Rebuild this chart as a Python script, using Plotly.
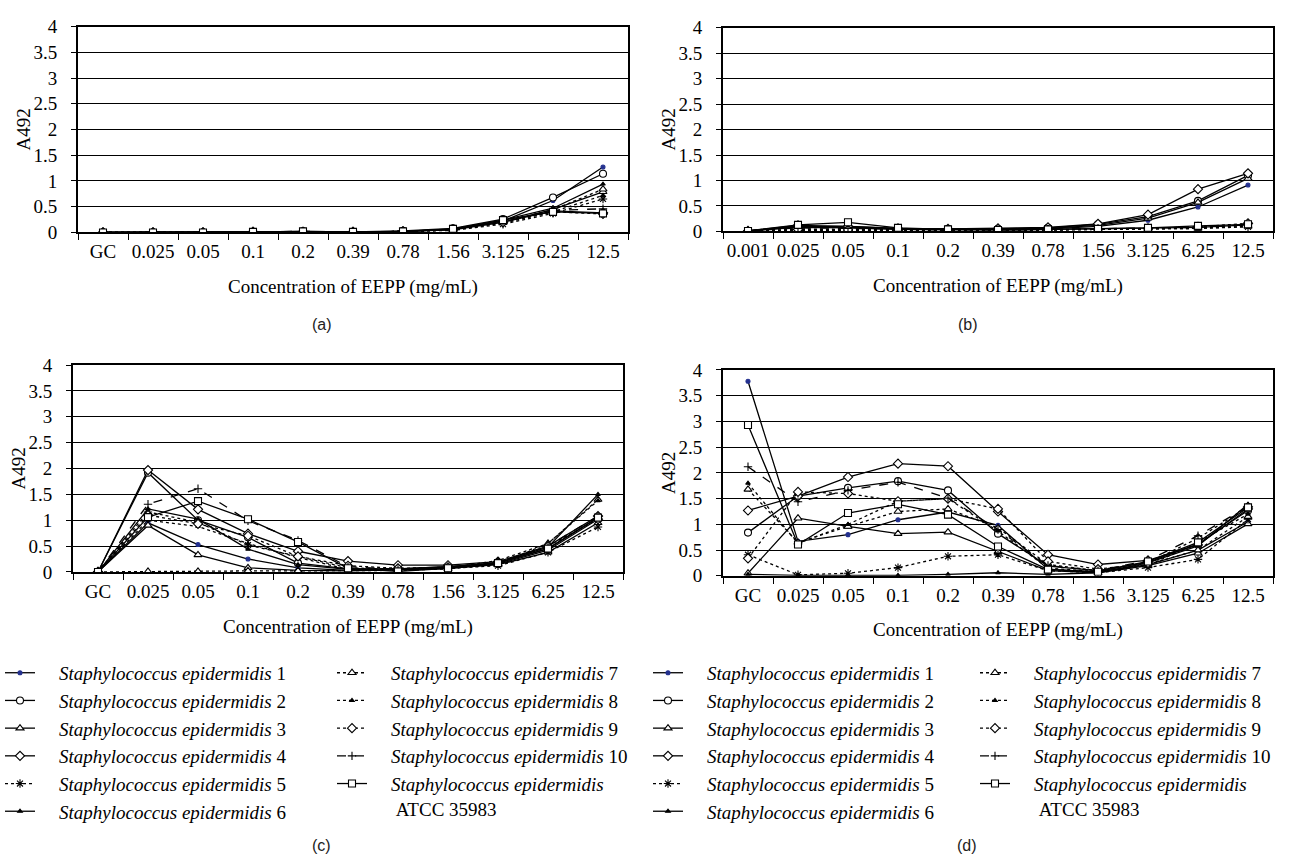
import plotly.graph_objects as go

# Concentrations of EEPP (mg/mL) on the category axes
conc_gc = ["GC", "0.025", "0.05", "0.1", "0.2", "0.39", "0.78", "1.56", "3.125", "6.25", "12.5"]
conc_b = ["0.001", "0.025", "0.05", "0.1", "0.2", "0.39", "0.78", "1.56", "3.125", "6.25", "12.5"]

GAP = "\u00a0" * 4
strain_names = [
    GAP + "<i>Staphylococcus epidermidis</i> 1",
    GAP + "<i>Staphylococcus epidermidis</i> 2",
    GAP + "<i>Staphylococcus epidermidis</i> 3",
    GAP + "<i>Staphylococcus epidermidis</i> 4",
    GAP + "<i>Staphylococcus epidermidis</i> 5",
    GAP + "<i>Staphylococcus epidermidis</i> 6",
    GAP + "<i>Staphylococcus epidermidis</i> 7",
    GAP + "<i>Staphylococcus epidermidis</i> 8",
    GAP + "<i>Staphylococcus epidermidis</i> 9",
    GAP + "<i>Staphylococcus epidermidis</i> 10",
    GAP + "<i>Staphylococcus epidermidis</i><br>" + GAP + "\u00a0ATCC 35983",
]

# Panel (a) A492
a_s1 = [0, 0, 0, 0.01, 0.01, 0.01, 0.02, 0.06, 0.22, 0.62, 1.27]
a_s2 = [0, 0, 0, 0.01, 0.02, 0.01, 0.03, 0.08, 0.26, 0.68, 1.14]
a_s3 = [0, 0, 0, 0.01, 0.01, 0.01, 0.02, 0.05, 0.20, 0.45, 0.79]
a_s4 = [0, 0, 0, 0.01, 0.01, 0.01, 0.02, 0.06, 0.20, 0.42, 0.38]
a_s5 = [0, 0, 0, 0.01, 0.01, 0.01, 0.02, 0.04, 0.16, 0.37, 0.65]
a_s6 = [0, 0, 0, 0.01, 0.01, 0.01, 0.02, 0.06, 0.24, 0.47, 0.94]
a_s7 = [0, 0, 0, 0.01, 0.01, 0.01, 0.02, 0.05, 0.20, 0.44, 0.84]
a_s8 = [0, 0, 0, 0.01, 0.01, 0.01, 0.02, 0.05, 0.18, 0.40, 0.72]
a_s9 = [0, 0, 0, 0.01, 0.01, 0.01, 0.02, 0.05, 0.20, 0.40, 0.36]
a_s10 = [0, 0, 0, 0.01, 0.02, 0.01, 0.02, 0.06, 0.22, 0.43, 0.46]
a_s11 = [0, 0, 0, 0.01, 0.02, 0.01, 0.02, 0.07, 0.24, 0.40, 0.37]

# Panel (b) A492
b_s1 = [0.01, 0.08, 0.07, 0.04, 0.03, 0.04, 0.05, 0.10, 0.22, 0.48, 0.91]
b_s2 = [0.01, 0.10, 0.10, 0.06, 0.05, 0.05, 0.07, 0.14, 0.29, 0.60, 1.10]
b_s3 = [0.01, 0.09, 0.08, 0.05, 0.04, 0.05, 0.06, 0.12, 0.26, 0.57, 1.04]
b_s4 = [0.01, 0.12, 0.10, 0.06, 0.05, 0.06, 0.08, 0.15, 0.33, 0.83, 1.14]
b_s5 = [0.00, 0.03, 0.02, 0.02, 0.02, 0.02, 0.03, 0.04, 0.05, 0.06, 0.09]
b_s6 = [0.01, 0.10, 0.08, 0.05, 0.04, 0.03, 0.04, 0.05, 0.07, 0.08, 0.13]
b_s7 = [0.00, 0.02, 0.01, 0.01, 0.01, 0.02, 0.03, 0.04, 0.05, 0.06, 0.10]
b_s8 = [0.00, 0.05, 0.04, 0.03, 0.02, 0.02, 0.03, 0.04, 0.05, 0.07, 0.12]
b_s9 = [0.00, 0.04, 0.03, 0.02, 0.02, 0.02, 0.03, 0.04, 0.06, 0.09, 0.16]
b_s10 = [0.01, 0.07, 0.06, 0.04, 0.03, 0.03, 0.04, 0.05, 0.06, 0.08, 0.13]
b_s11 = [0.01, 0.13, 0.18, 0.07, 0.04, 0.03, 0.04, 0.05, 0.07, 0.11, 0.14]

# Panel (c) A492
c_s1 = [0, 0.95, 0.53, 0.25, 0.08, 0.03, 0.04, 0.07, 0.15, 0.42, 1.02]
c_s2 = [0, 1.92, 1.00, 0.67, 0.17, 0.06, 0.06, 0.10, 0.17, 0.45, 1.05]
c_s3 = [0, 0.90, 0.33, 0.08, 0.03, 0.02, 0.04, 0.07, 0.14, 0.38, 0.95]
c_s4 = [0, 1.97, 1.21, 0.74, 0.40, 0.21, 0.13, 0.13, 0.20, 0.50, 1.08]
c_s5 = [0, 1.16, 0.96, 0.52, 0.30, 0.08, 0.05, 0.07, 0.12, 0.38, 0.87]
c_s6 = [0, 1.22, 1.02, 0.44, 0.14, 0.05, 0.06, 0.10, 0.18, 0.48, 1.50]
c_s7 = [0, 0.01, 0.01, 0.02, 0.02, 0.02, 0.03, 0.06, 0.15, 0.55, 1.40]
c_s8 = [0, 1.00, 0.88, 0.55, 0.28, 0.05, 0.06, 0.08, 0.22, 0.55, 1.38]
c_s9 = [0, 1.10, 0.93, 0.70, 0.30, 0.12, 0.07, 0.09, 0.18, 0.50, 1.02]
c_s10 = [0, 1.31, 1.61, 0.99, 0.61, 0.10, 0.05, 0.08, 0.17, 0.50, 1.08]
c_s11 = [0, 1.06, 1.37, 1.02, 0.58, 0.07, 0.01, 0.07, 0.17, 0.45, 1.05]

# Panel (d) A492
d_s1 = [3.78, 0.67, 0.80, 1.09, 1.24, 0.98, 0.13, 0.07, 0.22, 0.50, 1.05]
d_s2 = [0.84, 1.55, 1.71, 1.84, 1.66, 0.82, 0.19, 0.10, 0.26, 0.62, 1.27]
d_s3 = [0.05, 1.12, 0.96, 0.82, 0.85, 0.47, 0.10, 0.06, 0.20, 0.44, 1.01]
d_s4 = [1.27, 1.55, 1.92, 2.18, 2.13, 1.25, 0.41, 0.22, 0.30, 0.60, 1.30]
d_s5 = [0.41, 0.02, 0.05, 0.16, 0.38, 0.41, 0.10, 0.06, 0.16, 0.32, 1.10]
d_s6 = [0.03, 0.01, 0.01, 0.01, 0.03, 0.06, 0.03, 0.06, 0.25, 0.58, 1.39]
d_s7 = [1.68, 0.65, 0.96, 1.25, 1.30, 0.93, 0.22, 0.10, 0.22, 0.50, 1.15]
d_s8 = [1.80, 0.63, 1.00, 1.45, 1.50, 0.87, 0.15, 0.08, 0.20, 0.65, 1.20]
d_s9 = [0.34, 1.63, 1.60, 1.45, 1.50, 1.30, 0.28, 0.13, 0.25, 0.73, 1.34]
d_s10 = [2.12, 1.44, 1.66, 1.82, 1.51, 0.90, 0.20, 0.10, 0.30, 0.78, 1.35]
d_s11 = [2.93, 0.61, 1.22, 1.39, 1.19, 0.57, 0.12, 0.08, 0.28, 0.65, 1.33]

panels = [
    ("x", "y", conc_gc, [a_s1, a_s2, a_s3, a_s4, a_s5, a_s6, a_s7, a_s8, a_s9, a_s10, a_s11], None),
    ("x2", "y2", conc_b, [b_s1, b_s2, b_s3, b_s4, b_s5, b_s6, b_s7, b_s8, b_s9, b_s10, b_s11], None),
    ("x3", "y3", conc_gc, [c_s1, c_s2, c_s3, c_s4, c_s5, c_s6, c_s7, c_s8, c_s9, c_s10, c_s11], ("legend", "legend2")),
    ("x4", "y4", conc_gc, [d_s1, d_s2, d_s3, d_s4, d_s5, d_s6, d_s7, d_s8, d_s9, d_s10, d_s11], ("legend3", "legend4")),
]

NAVY = "#23308f"
# line dash, marker symbol, marker size, marker fill for each strain
styles = [
    ("solid", "circle", 4, NAVY),
    ("solid", "circle", 7, "white"),
    ("solid", "triangle-up", 7, "white"),
    ("solid", "diamond", 7, "white"),
    ("dot", "asterisk-open", 7, "black"),
    ("solid", "triangle-up", 4, "black"),
    ("dot", "triangle-up", 7, "white"),
    ("dot", "triangle-up", 4, "black"),
    ("dot", "diamond", 7, "white"),
    ("dash", "cross-thin-open", 6, "black"),
    ("solid", "square", 7, "white"),
]

fig = go.Figure()
for xa, ya, cats, series, legs in panels:
    for i, vals in enumerate(series):
        dash, sym, size, fill = styles[i]
        mline_col = NAVY if i == 0 else "black"
        kw = {}
        if legs is not None:
            kw["legend"] = legs[0] if i < 6 else legs[1]
            kw["showlegend"] = True
        else:
            kw["showlegend"] = False
        fig.add_trace(go.Scatter(
            x=cats, y=vals, xaxis=xa, yaxis=ya, mode="lines+markers",
            name=strain_names[i],
            line=dict(color="black", width=1.3, dash=dash),
            marker=dict(symbol=sym, size=size, color=fill,
                        line=dict(color=mline_col, width=1.1)),
            **kw,
        ))

W, H = 1290, 860


def px(x):
    return x / W


def py(y):
    return 1 - y / H


FONT = "Liberation Serif"
boxes = {
    "": (78, 628, 17, 228, conc_gc),
    "2": (723, 1273, 18, 227, conc_b),
    "3": (73, 623, 364, 576, conc_gc),
    "4": (723, 1273, 369, 580, conc_gc),
}

layout = dict(
    width=W, height=H, margin=dict(l=0, r=0, t=0, b=0),
    paper_bgcolor="white", plot_bgcolor="white",
    font=dict(family=FONT, size=19, color="black"),
    annotations=[],
)

labels = ["(a)", "(b)", "(c)", "(d)"]
label_pos = [(322, 322), (968, 322), (321, 856), (967, 856)]

for k, (x0, x1, y0, y1, cats) in boxes.items():
    layout["xaxis" + k] = dict(
        domain=[px(x0), px(x1)], anchor="y" + k, type="category",
        categoryorder="array", categoryarray=cats, range=[-0.5, 10.5],
        showline=True, linecolor="black", linewidth=2, mirror=True,
        ticks="outside", tickson="boundaries", ticklen=6, tickcolor="black",
        showgrid=False, zeroline=False, ticklabelstandoff=1, tickangle=0,
        tickfont=dict(family=FONT, size=19, color="black"),
    )
    layout["yaxis" + k] = dict(
        domain=[py(y1), py(y0)], anchor="x" + k, range=[0, 4], dtick=0.5,
        showline=True, linecolor="black", linewidth=2, mirror=True,
        ticks="outside", ticklen=5, tickcolor="black", ticklabelstandoff=10,
        showgrid=True, gridcolor="black", gridwidth=1.3, zeroline=False,
        tickfont=dict(family=FONT, size=19, color="black"),
    )
    layout["annotations"].append(dict(
        text="A492", textangle=-90, xref="paper", yref="paper",
        x=px(x0 - 54), y=py((y0 + y1) / 2), xanchor="center", yanchor="middle",
        showarrow=False, font=dict(family=FONT, size=19),
    ))
    layout["annotations"].append(dict(
        text="Concentration of EEPP (mg/mL)", xref="paper", yref="paper",
        x=px((x0 + x1) / 2), y=py(y1 + 56), xanchor="center", yanchor="middle",
        showarrow=False, font=dict(family=FONT, size=19),
    ))

for lab, (lx, ly) in zip(labels, label_pos):
    layout["annotations"].append(dict(
        text=lab, xref="paper", yref="paper", x=px(lx), y=py(ly),
        xanchor="center", yanchor="middle",
        showarrow=False, font=dict(family="Liberation Sans", size=16, color="#222"),
    ))

legend_common = dict(
    bgcolor="rgba(0,0,0,0)", borderwidth=0, tracegroupgap=0,
    font=dict(family=FONT, size=19, color="black"),
    xanchor="left", yanchor="top", valign="top",
)
layout["legend"] = dict(legend_common, x=px(0), y=py(660))
layout["legend2"] = dict(legend_common, x=px(332), y=py(660))
layout["legend3"] = dict(legend_common, x=px(648), y=py(660))
layout["legend4"] = dict(legend_common, x=px(975), y=py(660))

fig.update_layout(**layout)
fig.write_html("out.html")
